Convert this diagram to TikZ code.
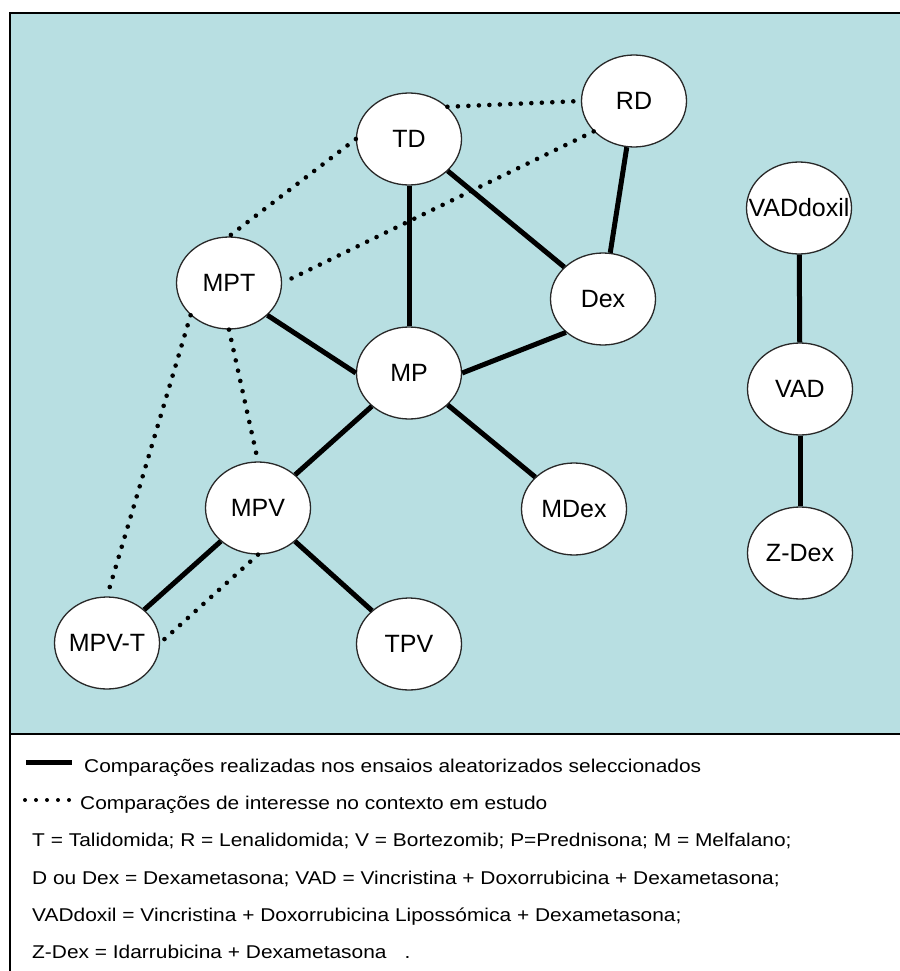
\documentclass[tikz,border=0pt]{standalone}
\usepackage{fontspec}
\setmainfont{Liberation Sans}
\newfontfamily\legfont[FakeStretch=1.13]{Liberation Sans}
\usetikzlibrary{shapes.geometric}
\definecolor{bgteal}{RGB}{184,223,226}
\definecolor{rimgray}{RGB}{40,40,40}
\newcommand\drugtxt[1]{\makebox[0pt][c]{#1}}
\tikzset{
  drug/.style={ellipse, draw=rimgray, line width=1.3pt, fill=white,
    minimum width=105pt, minimum height=92pt, inner sep=0pt,
    font=\fontsize{25}{28}\selectfont},
  trial/.style={line width=5pt},
  interest/.style={line width=4.6pt, line cap=round, dash pattern=on 0pt off 10.5pt},
  legtext/.style={anchor=base west, inner sep=0pt, font=\legfont\fontsize{18.5}{22}\selectfont},
  frameline/.style={line width=2pt, black}
}
\begin{document}
\begin{tikzpicture}[x=1pt,y=-1pt]
\useasboundingbox (0,0) rectangle (899,971);
% background panel and frame
\fill[bgteal] (10,13) rectangle (905,734);
\draw[frameline] (905,13) -- (10,13) -- (10,980);
\draw[frameline] (10,734) -- (905,734);

% nodes
\node[drug] (TD)   at (409,139) {\drugtxt{TD}};
\node[drug] (RD)   at (634,101) {\drugtxt{RD}};
\node[drug] (MPT)  at (229,283) {\drugtxt{MPT}};
\node[drug] (Dex)  at (603,299) {\drugtxt{Dex}};
\node[drug] (MP)   at (409,373) {\drugtxt{MP}};
\node[drug] (MPV)  at (258,508) {\drugtxt{MPV}};
\node[drug] (MDex) at (574,509) {\drugtxt{MDex}};
\node[drug] (MPVT) at (107,643) {\drugtxt{MPV-T}};
\node[drug] (TPV)  at (409,644) {\drugtxt{TPV}};
\node[drug] (VADdoxil) at (799,208) {\drugtxt{VADdoxil}};
\node[drug] (VAD)  at (800,389) {\drugtxt{VAD}};
\node[drug] (ZDex) at (800,553) {\drugtxt{Z-Dex}};

% solid comparisons
\draw[trial] (TD) -- (MP);
\draw[trial] (TD) -- (Dex);
\draw[trial] (RD) -- (Dex);
\draw[trial] (MPT.320) -- (MP.west);
\draw[trial] (MP.east) -- (Dex.222);
\draw[trial] (MP) -- (MPV);
\draw[trial] (MP) -- (MDex);
\draw[trial] (MPV) -- (MPVT);
\draw[trial] (MPV) -- (TPV);
\draw[trial] (VADdoxil) -- (VAD);
\draw[trial] (VAD) -- (ZDex);

% dotted comparisons
\draw[interest] (TD.40) -- (RD.west);
\draw[interest] (TD.west) -- (MPT.north);
\draw[interest] (RD.217) -- (MPT.east);
\draw[interest] (MPT.south) -- (MPV.north);
\draw[interest] (MPT.220) -- (MPVT.north);
\draw[interest] (MPV.south) -- (MPVT.east);

% legend
\coordinate (s1) at (26,762);
\coordinate (s2) at (72,762);
\draw[line width=5pt] (s1) -- (s2);
\coordinate (d1) at (25,800);
\coordinate (d2) at (74,800);
\draw[line width=4pt, line cap=round, dash pattern=on 0pt off 11pt] (d1) -- (d2);
\node[legtext] (L1) at (84,772) {Comparações realizadas nos ensaios aleatorizados seleccionados};
\node[legtext] (L2) at (80,809) {Comparações de interesse no contexto em estudo};
\node[legtext] (L3) at (32,846) {T = Talidomida; R = Lenalidomida; V = Bortezomib; P=Prednisona; M = Melfalano;};
\node[legtext] (L4) at (32,884) {D ou Dex = Dexametasona; VAD = Vincristina + Doxorrubicina + Dexametasona;};
\node[legtext] (L5) at (32,921) {VADdoxil = Vincristina + Doxorrubicina Lipossómica + Dexametasona;};
\node[legtext] (L6) at (32,958) {Z-Dex = Idarrubicina + Dexametasona\hspace{18pt}.};
\end{tikzpicture}
\end{document}
